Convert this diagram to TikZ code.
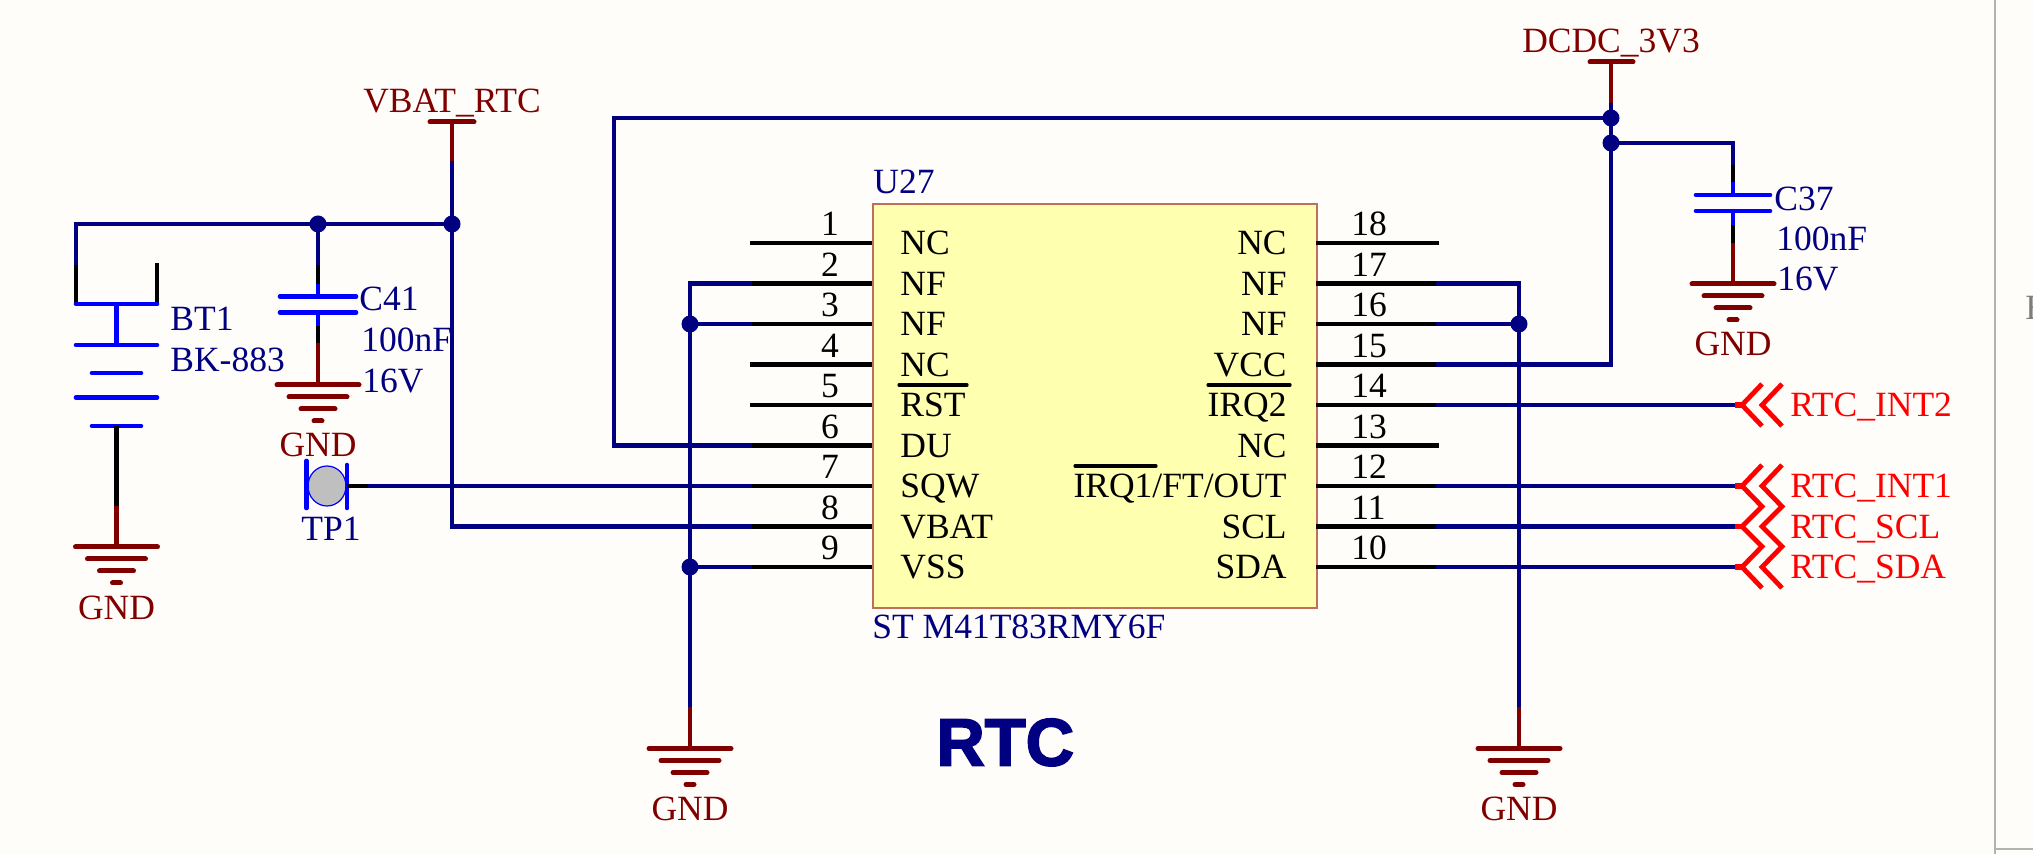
\documentclass[tikz,border=0pt]{standalone}
\usepackage{fontspec}
\usetikzlibrary{shapes.geometric}
\setmainfont{Liberation Serif}
\newfontfamily\rtcfont[BoldFeatures={FakeBold=2.5}]{Liberation Sans}
\definecolor{bgc}{HTML}{FFFDF9}
\definecolor{wirec}{HTML}{000080}
\definecolor{pwrc}{HTML}{800000}
\definecolor{partc}{HTML}{0000FF}
\definecolor{portc}{HTML}{FF0000}
\definecolor{boxf}{HTML}{FFFFB0}
\definecolor{boxd}{HTML}{C0705A}
\definecolor{edgec}{HTML}{B4B2AE}
\tikzset{
  x=0.5pt,y=-0.5pt,
  wire/.style={draw=wirec,line width=2.2pt,line join=miter},
  pinline/.style={draw=black,line width=2.2pt},
  pwr/.style={draw=pwrc,line width=2.2pt},
  pwrbar/.style={draw=pwrc,line width=2.5pt,line cap=round},
  part/.style={draw=partc,line width=2.2pt},
  partbar/.style={draw=partc,line width=2.3pt,line cap=round},
  port/.style={draw=portc,line width=2.4pt,line join=miter},
  dot/.style={circle,fill=wirec,draw=none,minimum size=8.5pt,inner sep=0pt},
  txt/.style={inner sep=0pt,font=\fontsize{17.75}{20}\selectfont},
  lbl/.style={txt,anchor=base west},
  lblr/.style={txt,anchor=base east},
  ctr/.style={txt,anchor=base},
  des/.style={lbl,text=wirec},
  pwrtxt/.style={ctr,text=pwrc},
  porttxt/.style={lbl,text=portc},
  overbar/.style={draw=black,line width=1.6pt,line cap=round},
}
\newcommand{\gndsym}[2]{%
  \draw[pwrbar] (#1-41,#2) -- (#1+41,#2);
  \draw[pwrbar] (#1-29,#2+12) -- (#1+29,#2+12);
  \draw[pwrbar] (#1-17,#2+24) -- (#1+17,#2+24);
  \draw[pwrbar] (#1-4,#2+36) -- (#1+4,#2+36);
}
\newcommand{\capsym}[8]{% x, top, black start, black end(blue start), plate1, plate2, blue end, half width
  \draw[part] (#1,#4) -- (#1,#5);
  \draw[pinline] (#1,#3) -- (#1,#4);
  \draw[partbar] (#1-#8,#5) -- (#1+#8,#5);
  \draw[partbar] (#1-#8,#6) -- (#1+#8,#6);
  \draw[part] (#1,#6) -- (#1,#7);
}
\begin{document}
\begin{tikzpicture}
\useasboundingbox (0,0) rectangle (2033,854);
\fill[bgc] (0,0) rectangle (2033,854);
% sheet border at right
\draw[edgec,line width=1.3pt] (1995,0) -- (1995,854);
\draw[edgec,line width=0.8pt] (1995,849) -- (2033,849);
\node[lbl,text=edgec!70!black] (sheetmark) at (2025,320) {E};

% IC body
\node[draw=boxd,fill=boxf,line width=0.8pt,minimum width=222pt,minimum height=202pt,inner sep=0pt,anchor=north west] (U) at (872,203) {};
\node[des] (u27) at (873,194) {U27};
\node[des] (mpn) at (872,639) {ST M41T83RMY6F};

% pin stubs, numbers, names
\foreach \n/\y/\nm in {1/243/NC,2/283.5/NF,3/324/NF,4/364.5/NC,5/405/RST,6/445.5/DU,7/486/SQW,8/526.5/VBAT,9/567/VSS}{
  \coordinate (p\n) at (750,\y);
  \coordinate (q\n) at (872,\y);
  \draw[pinline] (p\n) -- (q\n);
  \node[ctr] (num\n) at (830,\y-7) {\n};
  \node[lbl] (name\n) at (900,\y+12) {\nm};
}
\foreach \n/\y/\nm in {18/243/NC,17/283.5/NF,16/324/NF,15/364.5/VCC,14/405/IRQ2,13/445.5/NC,12/486/{IRQ1/FT/OUT},11/526.5/SCL,10/567/SDA}{
  \coordinate (p\n) at (1439,\y);
  \coordinate (q\n) at (1316,\y);
  \draw[pinline] (q\n) -- (p\n);
  \node[lbl] (num\n) at (1351,\y-7) {\n};
  \node[lblr] (name\n) at (1287,\y+12) {\nm};
}
\draw[overbar] (899,385) -- (967,385);
\draw[overbar] (1208,385) -- (1290,385);
\draw[overbar] (1075,466) -- (1156,466);

% junctions
\coordinate (jvbat) at (452,224);
\coordinate (jc41) at (318,224);
\coordinate (jl1) at (690,324);
\coordinate (jl2) at (690,567);
\coordinate (jr1) at (1519,324);
\coordinate (jdc1) at (1611,118);
\coordinate (jdc2) at (1611,143);
\coordinate (glb) at (690,707);
\coordinate (grb) at (1519,707);
\coordinate (bt1a) at (76,265);
\coordinate (c41a) at (318,265);
\coordinate (c37a) at (1733,165);

% wires
\draw[wire] (452,161) -- (jvbat) -- (452,526.5) -- (752,526.5);
\draw[wire] (bt1a) -- (76,224) -- (jvbat);
\draw[wire] (jc41) -- (c41a);
\draw[wire] (752,445.5) -- (614,445.5) -- (614,118) -- (jdc1);
\draw[wire] (jdc1) -- (jdc2) -- (1611,364.5) -- (1436,364.5);
\draw[wire] (jdc2) -- (1733,143) -- (c37a);
\draw[wire] (368,486) -- (752,486);
\draw[wire] (752,283.5) -- (690,283.5) -- (glb);
\draw[wire] (752,324) -- (jl1);
\draw[wire] (752,567) -- (jl2);
\draw[wire] (1436,283.5) -- (1519,283.5) -- (grb);
\draw[wire] (1436,324) -- (jr1);
\foreach \y in {405,486,526.5,567}{ \draw[wire] (1436,\y) -- (1735,\y); }

% power stems
\draw[pwr] (452,122) -- (452,161);
\draw[pwrbar] (430,122) -- (474,122);
\node[pwrtxt] (vbatrtc) at (452,113) {VBAT\_RTC};
\draw[pwr] (1611,62) -- (1611,103);
\draw[pwrbar] (1590,62) -- (1633,62);
\node[pwrtxt] (dcdc) at (1611,53) {DCDC\_3V3};
\draw[wire] (1611,103) -- (jdc1);

% battery
\draw[pinline] (76,265) -- (76,304);
\draw[pinline] (157,263) -- (157,304);
\draw[partbar] (76,304) -- (157,304);
\draw[part] (116.5,304) -- (116.5,345);
\draw[partbar] (76,345) -- (157,345);
\draw[partbar] (92,373) -- (141,373);
\draw[partbar] (76,397.5) -- (157,397.5);
\draw[partbar] (92,426) -- (141,426);
\draw[pinline] (116.5,426) -- (116.5,506);
\draw[pwr] (116.5,506) -- (116.5,547);
\gndsym{116.5}{547}
\node[pwrtxt] (gndbt) at (116.5,619) {GND};
\node[des] (bt1) at (170,331) {BT1};
\node[des] (bk) at (170,372) {BK-883};

% C41
\capsym{318}{265}{265}{284}{296.5}{312.5}{326}{38}
\draw[pinline] (318,326) -- (318,343);
\draw[pwr] (318,343) -- (318,385);
\gndsym{318}{385}
\node[pwrtxt] (gndc41) at (318,457) {GND};
\node[des] (c41) at (359,311) {C41};
\node[des] (c41v) at (361,352) {100nF};
\node[des] (c41w) at (362,393) {16V};

% C37
\capsym{1733}{165}{165}{182}{195}{211}{225}{37}
\draw[pinline] (1733,225) -- (1733,243);
\draw[pwr] (1733,243) -- (1733,284);
\gndsym{1733}{284}
\node[pwrtxt] (gndc37) at (1733,356) {GND};
\node[des] (c37) at (1774,211) {C37};
\node[des] (c37v) at (1776,251) {100nF};
\node[des] (c37w) at (1777,291) {16V};

% test point
\node[draw=partc,fill=black!25,line width=0.6pt,ellipse,minimum width=19pt,minimum height=20pt,inner sep=0pt] (tp) at (327,486) {};
\draw[partbar] (306.5,461) -- (306.5,508);
\draw[partbar] (347,465) -- (347,508);
\draw[pinline] (347,486) -- (368,486);
\node[ctr,text=wirec] (tp1) at (331,541) {TP1};

% ground rails
\draw[pwr] (glb) -- (690,748.5);
\gndsym{690}{748.5}
\node[pwrtxt] (gndl) at (690,820) {GND};
\draw[pwr] (grb) -- (1519,748.5);
\gndsym{1519}{748.5}
\node[pwrtxt] (gndr) at (1519,820) {GND};

% dots
\foreach \c in {jvbat,jc41,jl1,jl2,jr1,jdc1,jdc2}{ \node[dot] (d\c) at (\c) {}; }

% off-sheet ports
\foreach \y in {405,486,526.5,567}{ \draw[port,line width=2.6pt] (1735,\y) -- (1742,\y); }
\draw[port] (1762,384) -- (1742,405) -- (1762,426);
\draw[port] (1782,384) -- (1762,405) -- (1782,426);
\draw[port] (1762,465) -- (1742,486) -- (1762,506.5) -- (1742,526.5) -- (1762,546.5) -- (1742,567) -- (1762,588);
\draw[port] (1782,465) -- (1762,486) -- (1782,506.5) -- (1762,526.5) -- (1782,546.5) -- (1762,567) -- (1782,588);
\node[porttxt] (int2) at (1790,417) {RTC\_INT2};
\node[porttxt] (int1) at (1790,498) {RTC\_INT1};
\node[porttxt] (scl) at (1790,538.5) {RTC\_SCL};
\node[porttxt] (sda) at (1790,579) {RTC\_SDA};

% title
\node[inner sep=0pt,anchor=base west,text=wirec,font=\rtcfont\bfseries\fontsize{33.5}{36}\selectfont] (title) at (936,765.5) {RTC};
\end{tikzpicture}
\end{document}
